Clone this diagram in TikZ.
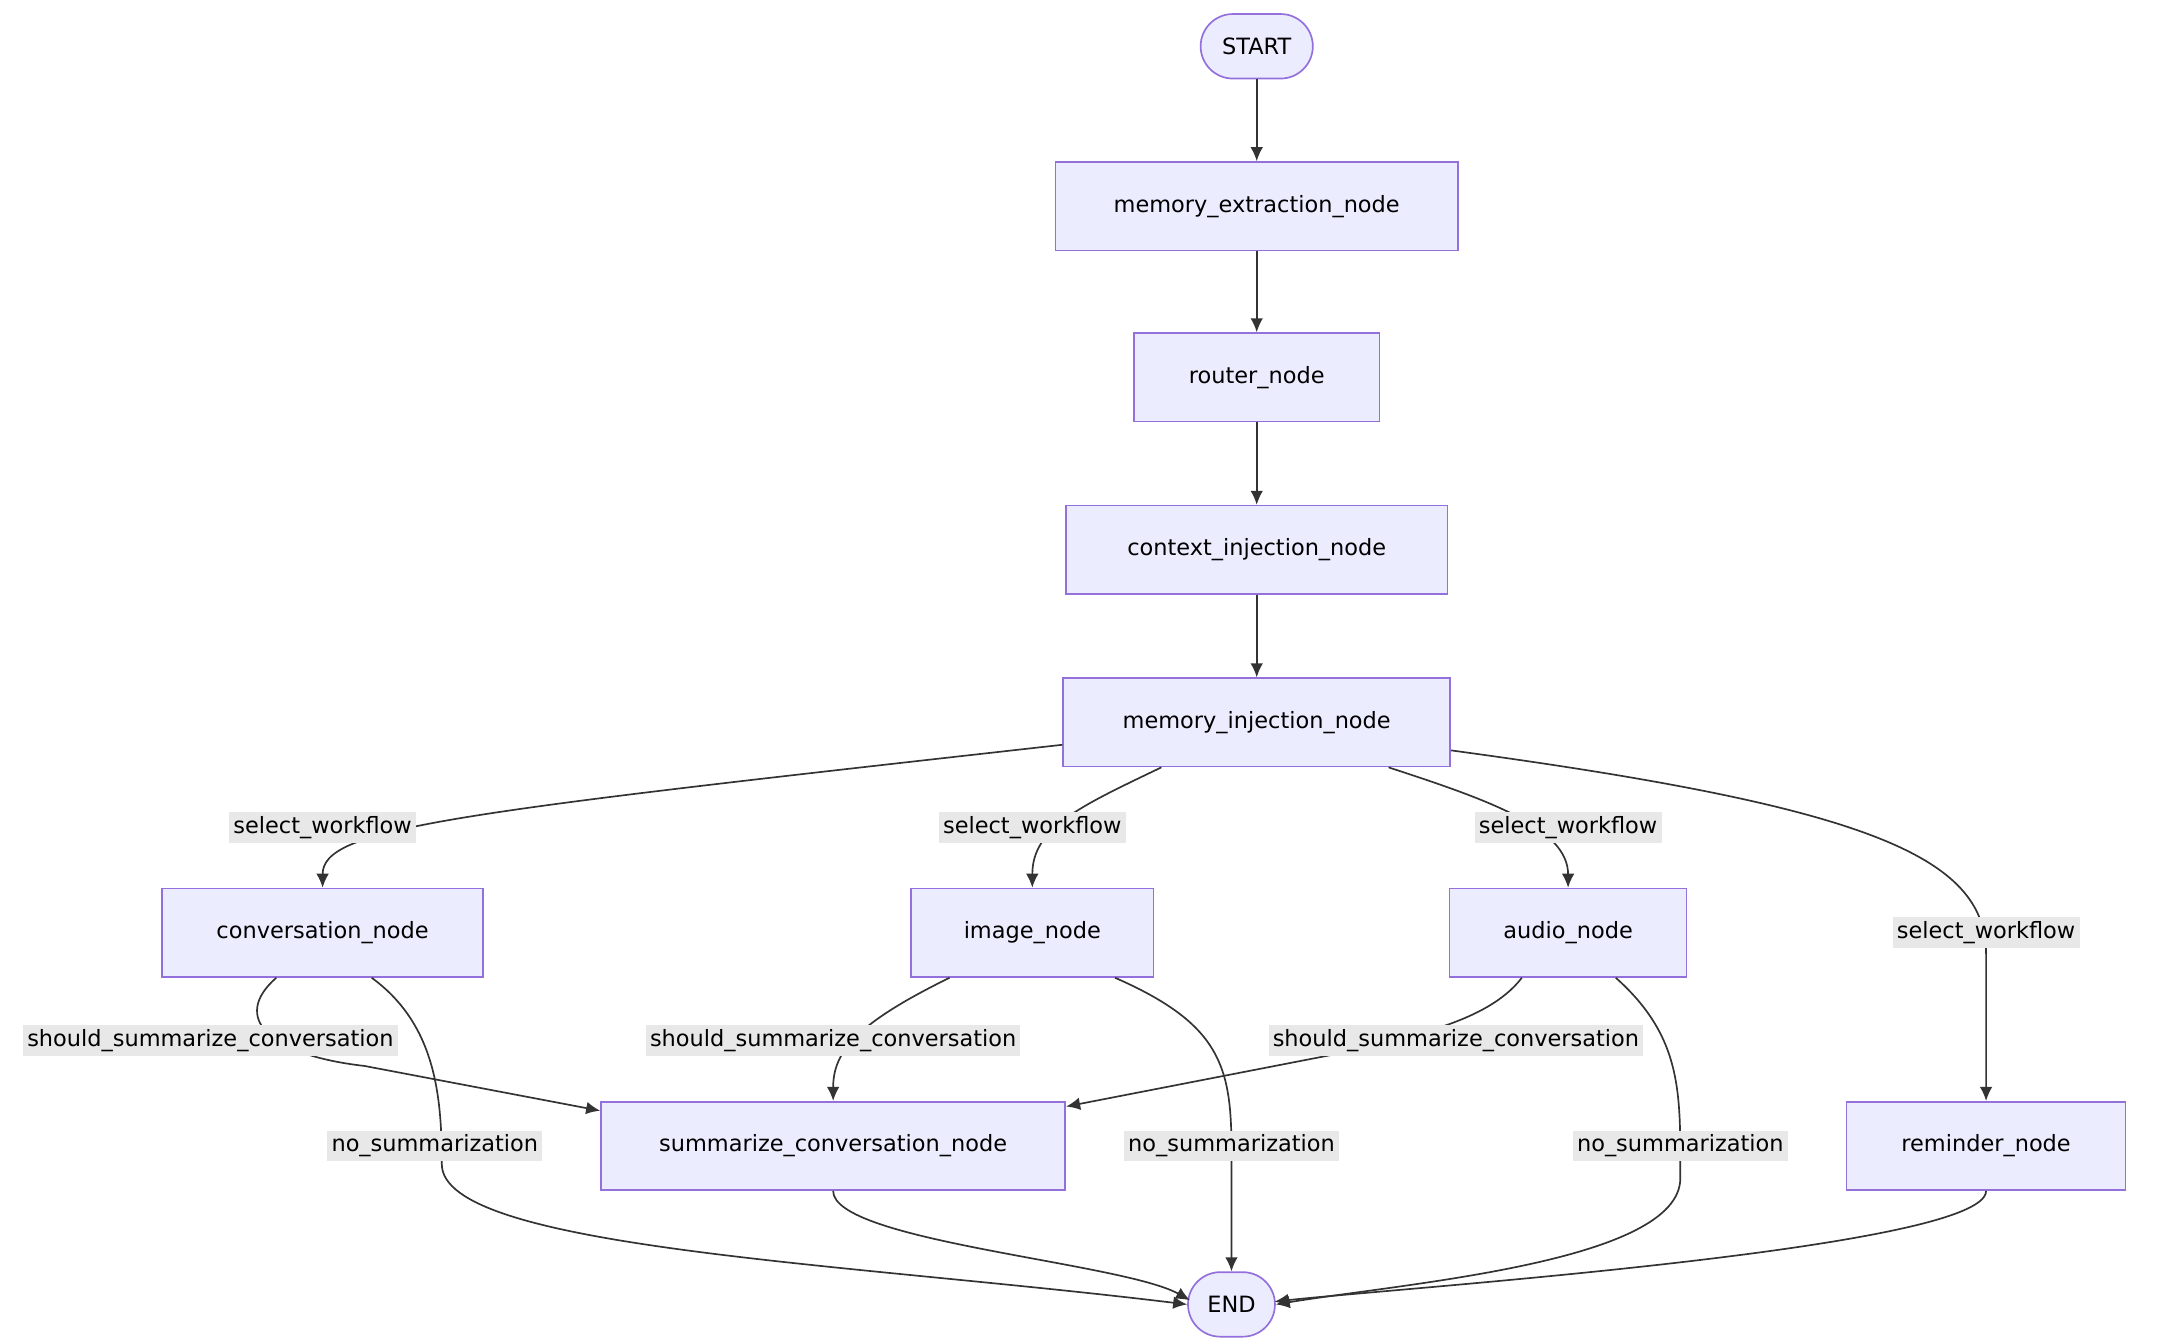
\documentclass[tikz,border=0pt]{standalone}
\usepackage{fontspec}
\setmainfont{DejaVu Sans}
\usetikzlibrary{calc,arrows.meta}
\definecolor{nodefill}{HTML}{ECECFF}
\definecolor{nodeline}{HTML}{9370DB}
\definecolor{edgeline}{HTML}{333333}
\definecolor{labelbg}{HTML}{E8E8E8}
\tikzset{
  box/.style={draw=nodeline, fill=nodefill, line width=0.6pt, minimum height=31.5pt, inner sep=0pt, font=\fontsize{8}{10}\selectfont},
  term/.style={box, rounded corners=11.5pt, minimum height=23pt},
  arr/.style={draw=edgeline, line width=0.6pt, -{Latex[length=5pt,width=4.5pt]}},
  elabel/.style={fill=labelbg, inner sep=1.5pt, font=\fontsize{8}{10}\selectfont}
}
\begin{document}
\begin{tikzpicture}[x=0.5pt,y=-0.5pt]
  \useasboundingbox (0,0) rectangle (1550,958);

  % nodes
  \node[term, minimum width=40pt] (start) at (896,33) {START};
  \node[box, minimum width=143.5pt] (extract) at (896,147) {memory\_extraction\_node};
  \node[box, minimum width=87.5pt] (router) at (896,269) {router\_node};
  \node[box, minimum width=136pt] (context) at (896,392) {context\_injection\_node};
  \node[box, minimum width=138pt] (inject) at (896,515) {memory\_injection\_node};
  \node[box, minimum width=114.5pt] (conv) at (230,665) {conversation\_node};
  \node[box, minimum width=86.5pt] (image) at (736,665) {image\_node};
  \node[box, minimum width=84.5pt] (audio) at (1118,665) {audio\_node};
  \node[box, minimum width=165.5pt] (summ) at (594,817) {summarize\_conversation\_node};
  \node[box, minimum width=99.5pt] (remind) at (1416,817) {reminder\_node};
  \node[term, minimum width=31pt] (end) at (878,930) {END};

  % straight chain
  \draw[arr] (start) -- (extract);
  \draw[arr] (extract) -- (router);
  \draw[arr] (router) -- (context);
  \draw[arr] (context) -- (inject);

  % workflow selection
  \draw[arr] ($(inject.west)+(0,16)$) .. controls (320,580) and (230,590) .. (conv.north);
  \draw[arr] ($(inject.south)+(-68,0)$) .. controls (770,575) and (736,590) .. (image.north);
  \draw[arr] ($(inject.south)+(94,0)$) .. controls (1060,570) and (1118,590) .. (audio.north);
  \draw[arr] ($(inject.east)+(0,20)$) .. controls (1330,575) and (1416,610) .. (1416,680) -- (remind.north);

  % summarization
  \draw[arr] ($(conv.south)+(-33,0)$) .. controls (165,725) and (190,752) .. (260,760) -- ($(summ.north west)+(0,7)$);
  \draw[arr] ($(conv.south)+(35,0)$) .. controls (310,730) and (315,780) .. (315,830) .. controls (315,890) and (600,900) .. (end.west);
  \draw[arr] ($(image.south)+(-59,0)$) .. controls (610,730) and (594,750) .. (summ.north);
  \draw[arr] ($(image.south)+(59,0)$) .. controls (870,730) and (878,760) .. (878,820) -- (end.north);
  \draw[arr] ($(audio.south)+(-33,0)$) .. controls (1060,730) and (1000,740) .. (950,752) -- ($(summ.north east)+(0,4)$);
  \draw[arr] ($(audio.south)+(34,0)$) .. controls (1200,740) and (1198,780) .. (1198,840) .. controls (1198,900) and (1000,915) .. (end.east);
  \draw[arr] (summ.south) .. controls (594,885) and (800,900) .. ($(end.west)+(2,-3)$);
  \draw[arr] (remind.south) .. controls (1416,890) and (1000,918) .. ($(end.east)+(-1,-2)$);

  % edge labels
  \node[elabel] (l1) at (230,590) {select\_workflow};
  \node[elabel] (l2) at (736,590) {select\_workflow};
  \node[elabel] (l3) at (1118,590) {select\_workflow};
  \node[elabel] (l4) at (1416,665) {select\_workflow};
  \node[elabel] (l5) at (150,742) {should\_summarize\_conversation};
  \node[elabel] (l6) at (594,742) {should\_summarize\_conversation};
  \node[elabel] (l7) at (1038,742) {should\_summarize\_conversation};
  \node[elabel] (l8) at (310,817) {no\_summarization};
  \node[elabel] (l9) at (878,817) {no\_summarization};
  \node[elabel] (l10) at (1198,817) {no\_summarization};
\end{tikzpicture}
\end{document}
